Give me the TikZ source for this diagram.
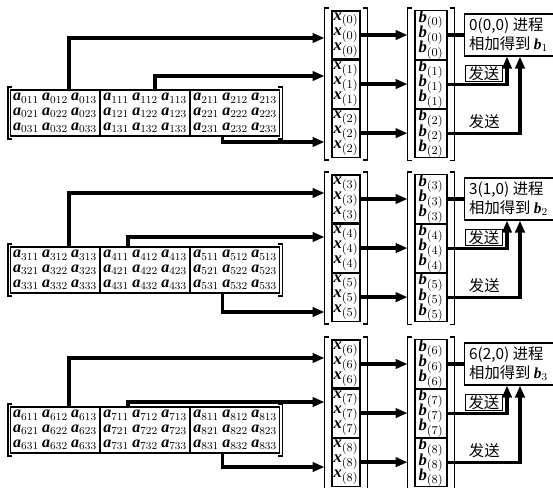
\documentclass[tikz,border=0pt]{standalone}
\usepackage{fontspec}
\setmainfont{Liberation Serif}
\newfontfamily\cjk{Noto Sans CJK SC}
\usetikzlibrary{arrows.meta,positioning,fit}

\newcommand{\bi}[1]{\textrm{\bfseries\itshape #1}}
\newcommand{\aent}[1]{$\bi{a}_{#1}$}
\newcommand{\ablk}[1]{\aent{#111}\hspace{2.5pt}\aent{#112}\hspace{2.5pt}\aent{#113}\\
  \aent{#121}\hspace{2.5pt}\aent{#122}\hspace{2.5pt}\aent{#123}\\
  \aent{#131}\hspace{2.5pt}\aent{#132}\hspace{2.5pt}\aent{#133}}
\newcommand{\vblk}[2]{$\bi{#1}_{(#2)}$\\$\bi{#1}_{(#2)}$\\$\bi{#1}_{(#2)}$}
\newcommand{\sqbrk}[1]{%
  \draw[brk] ([xshift=3pt]#1.north west) -| (#1.south west) -- ([xshift=3pt]#1.south west);
  \draw[brk] ([xshift=-3pt]#1.north east) -| (#1.south east) -- ([xshift=-3pt]#1.south east);}
\newcommand{\tightlines}{\lineskiplimit=-20pt\relax\lineskip=0pt\relax}

\begin{document}
\begin{tikzpicture}[x=0.75pt, y=-0.75pt,
  ablock/.style={draw, line width=0.8pt, minimum width=66.75pt, minimum height=34.5pt, inner sep=0pt, align=center, font=\fontsize{12}{11.2}\selectfont, execute at begin node=\tightlines},
  vblock/.style={draw, line width=0.8pt, minimum width=21pt, minimum height=36pt, inner sep=0pt, align=center, font=\fontsize{12.5}{11.3}\selectfont, execute at begin node=\tightlines},
  bblock/.style={vblock, minimum width=24pt},
  res/.style={draw, line width=0.8pt, align=left, minimum width=66.75pt, minimum height=31.5pt, inner sep=1.5pt, font=\cjk\fontsize{11.5}{14}\selectfont},
  send/.style={font=\cjk\fontsize{11.5}{13}\selectfont, inner sep=1pt},
  brk/.style={line width=1.2pt},
  conn/.style={line width=2.6pt},
  arr/.style={conn, -{Triangle[length=9pt,width=7pt]}}]
\useasboundingbox (0,0) rectangle (553,488);
\foreach \s/\vy/\my/\ya/\yb/\yc/\xb in {0/8/113/38/76/142/155, 1/172/270/193/237/312/128, 2/337/430/358/402/467/128}{
  \pgfmathtruncatemacro\ka{3*\s}
  \pgfmathtruncatemacro\kb{3*\s+1}
  \pgfmathtruncatemacro\kc{3*\s+2}
  \pgfmathtruncatemacro\bn{\s+1}
  % matrix A
  \node[ablock, anchor=west] (a\ka) at (10,\my) {\ablk{\ka}};
  \node[ablock, right=0pt of a\ka] (a\kb) {\ablk{\kb}};
  \node[ablock, right=0pt of a\kb] (a\kc) {\ablk{\kc}};
  \node[fit=(a\ka)(a\kc), inner sep=1.5pt] (A\s) {};
  \sqbrk{A\s}
  % vector x
  \node[vblock] (x\ka) at (346,\vy+27) {\vblk{x}{\ka}};
  \node[vblock, below=0pt of x\ka] (x\kb) {\vblk{x}{\kb}};
  \node[vblock, below=0pt of x\kb] (x\kc) {\vblk{x}{\kc}};
  \node[fit=(x\ka)(x\kc), inner xsep=5pt, inner ysep=1.5pt] (X\s) {};
  \sqbrk{X\s}
  % vector b
  \node[bblock] (b\ka) at (431,\vy+27) {\vblk{b}{\ka}};
  \node[bblock, below=0pt of b\ka] (b\kb) {\vblk{b}{\kb}};
  \node[bblock, below=0pt of b\kb] (b\kc) {\vblk{b}{\kc}};
  \node[fit=(b\ka)(b\kc), inner xsep=5pt, inner ysep=1.5pt] (B\s) {};
  \sqbrk{B\s}
  % result
  \node[res, right=12pt of b\ka] (r\s) {\ka(\s,0) 进程\\相加得到 $\bi{b}_{\bn}$};
  % A -> x
  \draw[arr] ([xshift=10.5pt]a\ka.north) |- (X\s.west |- 0,\ya);
  \draw[arr] (a\kb.north -| \xb,0) |- (X\s.west |- 0,\yb);
  \draw[arr] ([xshift=-9.4pt]a\kc.south) |- (X\s.west |- 0,\yc);
  % x -> b
  \foreach \k in {\ka,\kb,\kc} \draw[arr] (x\k.east) -- (B\s.west |- x\k.east);
  % b -> result
  \draw[conn] (b\ka.east) -- (r\s.west);
  \draw[arr] (b\kb.east) -| (r\s.south -| 507,0) node[send, draw, line width=0.7pt, inner xsep=2.5pt, pos=0.5, anchor=south east, xshift=-3pt, yshift=1.4pt] {发送};
  \draw[arr] (b\kc.east) -| (r\s.south -| 520,0) node[send, pos=0.5, anchor=south east, xshift=-13pt, yshift=1pt] {发送};
}
\end{tikzpicture}
\end{document}
